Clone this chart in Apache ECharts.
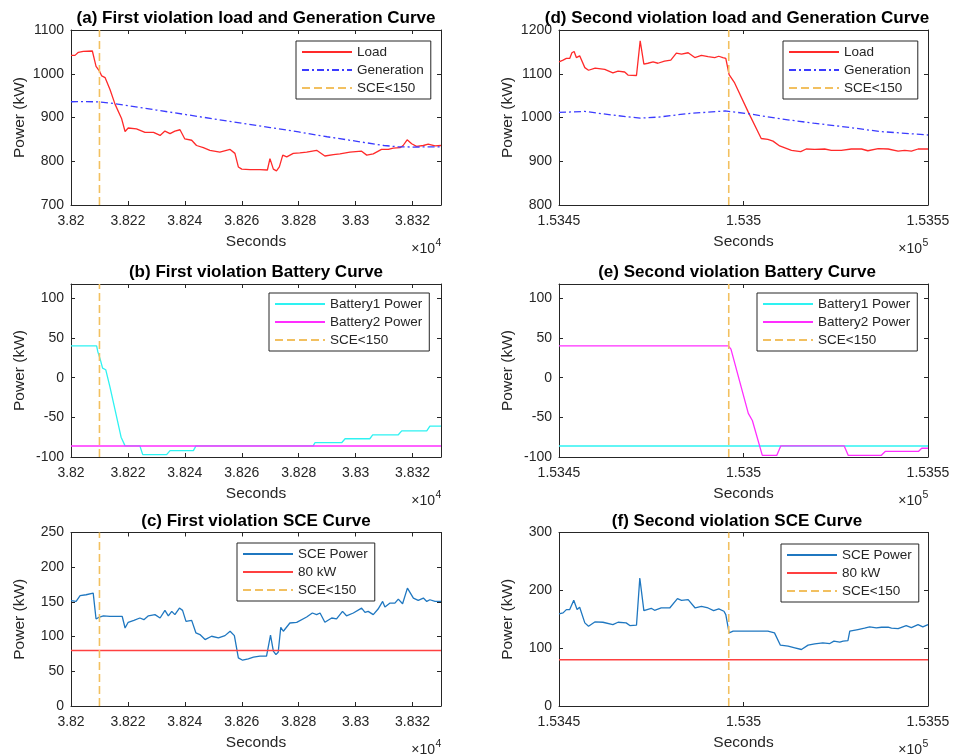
<!DOCTYPE html>
<html>
<head>
<meta charset="utf-8">
<script src="https://cdn.jsdelivr.net/npm/echarts@6/dist/echarts.min.js"></script>
<style>
  html, body { margin: 0; padding: 0; background: #fff; }
  #chart { width: 957px; height: 755px; }
</style>
</head>
<body>
<div id="chart"></div>
<script>
// ---- data: time in seconds, power in kW ----
const titles = [
  '(a) First violation load and Generation Curve',
  '(d) Second violation load and Generation Curve',
  '(b) First violation Battery Curve',
  '(e) Second violation Battery Curve',
  '(c) First violation SCE Curve',
  '(f) Second violation SCE Curve'
];

const firstRange = [38200, 38330];
const secondRange = [153450, 153550];
const firstTrigger = 38210;
const secondTrigger = 153496;

const loadFirst = [
  [38200,1042],[38201.4,1042],[38202.6,1049],[38204.3,1051],[38207.5,1052],[38207.9,1050],
  [38208.8,1017],[38210,1006],[38210.8,995],[38212,991],[38213.7,964],[38215.5,930],
  [38217.8,897],[38219,868],[38220.1,876],[38223,874],[38226,866],[38229,866],
  [38231.3,859],[38233,869],[38234.8,863],[38236.5,869],[38238.3,872],[38240,851],
  [38242.4,848],[38244.1,836],[38246.5,831],[38248.8,825],[38252.3,821],[38255.9,827],
  [38257.6,818],[38258.8,787],[38260,782],[38262.9,781],[38266.4,781],[38269,780],
  [38269.9,806],[38271.1,782],[38272.2,778],[38273.2,787],[38274.4,814],[38275.8,810],
  [38278.1,818],[38280.4,819],[38282.8,821],[38286.3,825],[38289.2,812],[38292.2,815],
  [38294.5,817],[38298,821],[38302.1,823],[38303.9,814],[38306.2,817],[38309.1,827],
  [38311.5,827],[38313.2,830],[38315.6,831],[38316.7,836],[38318.1,849],[38319.7,840],
  [38321.4,834],[38323.8,836],[38325.5,839],[38327.9,835],[38330,836]
];
const genFirst = [
  [38200,936],[38205,936.5],[38210,935.5],[38215,932],[38220,927],[38230,917],
  [38240,907],[38250,897],[38260,887],[38270,877],[38280,867],[38290,856],
  [38300,846],[38310,836],[38315,833],[38320,832.5],[38330,833]
];
const battery1First = [
  [38200,40],[38209,40],[38209.4,33],[38210.2,24],[38211.1,12],[38212.2,10],
  [38213.7,-12],[38215.5,-41],[38217.6,-75],[38219,-86],[38224.2,-86],[38225.2,-97],
  [38233.6,-97],[38234.8,-92],[38243,-92],[38243.9,-86],[38285.1,-86],[38285.7,-82],
  [38295.1,-82],[38296.3,-77],[38305,-77],[38306,-72],[38315,-72],[38316.2,-67],
  [38325,-67],[38326.1,-61],[38330,-61]
];
const battery2First = [[38200,-86],[38330,-86]];
const sceFirst = [
  [38200,151.7],[38201.8,150.7],[38203.2,158.9],[38205.3,160.3],[38207.8,162.7],[38208.8,125.4],
  [38210,128.2],[38211.4,130],[38213.7,129],[38218,129],[38219,112.4],[38220.1,120.6],
  [38222.1,123.4],[38224.2,126.8],[38225.6,124.4],[38227.2,130],[38229.5,131.6],[38231.3,126.8],
  [38233,137.8],[38234.2,130],[38235.4,136.4],[38236.5,131.6],[38238.1,141.1],[38239.2,137.8],
  [38240.4,122],[38242.4,123.4],[38243.9,105.3],[38245.3,102.9],[38247.1,95.7],[38249.4,100.5],
  [38251.8,98.1],[38254.1,101.4],[38255.9,107.7],[38257.4,101.4],[38258.8,69.4],[38260.3,66],
  [38262.3,68],[38264.1,70.3],[38266.4,71.8],[38268.7,71.8],[38269.3,74],[38270.1,102],
  [38271.1,79],[38272,74],[38272.8,77.5],[38273.7,113.4],[38274.6,107.7],[38276.9,119.6],
  [38279.3,120.6],[38282.8,128.2],[38284.8,134],[38286.3,131.6],[38287.5,134],[38289.2,120.6],
  [38291.6,126.8],[38293.3,125.4],[38295.4,136.4],[38296.8,130],[38299.2,134],[38302.1,141.1],
  [38303.3,135],[38304.4,136.4],[38306.2,131.6],[38307.9,139.7],[38309.5,150.7],[38310.3,142.6],
  [38312.1,148.3],[38313.8,148.3],[38315,154],[38316.5,147.4],[38318.2,169.9],[38320.3,155.5],
  [38322,152.2],[38323.8,155.5],[38325,150.7],[38326.1,153.1],[38327.9,150.7],[38330,150.7]
];
const limitFirst = [[38200,80],[38330,80]];

const loadSecond = [
  [153450,1127],[153451.1,1131],[153452,1135],[153452.9,1135],[153453.5,1148],[153454.1,1151],
  [153454.7,1137],[153455.6,1141],[153456.1,1139],[153457,1114],[153458,1108],[153459.8,1113],
  [153462.4,1110],[153464.6,1102],[153466,1106],[153467.8,1104],[153468.7,1097],[153471,1096],
  [153472,1175],[153473,1122],[153474.1,1124],[153475.5,1127],[153476.8,1124],[153478.6,1129],
  [153480.3,1131],[153481.8,1147],[153483.2,1145],[153485,1148],[153486.8,1137],[153488.6,1142],
  [153490.4,1139],[153492.2,1137],[153493.3,1140],[153494.4,1137],[153495.2,1135],[153496.1,1098],
  [153497.6,1079],[153501.2,1014],[153504.8,952],[153506.6,950],[153508,946],[153509.8,935],
  [153513,925],[153515.5,922],[153517,928],[153519.3,927],[153522,928],[153523.8,925],
  [153526.5,925],[153529.2,928],[153532,928],[153533.7,924],[153536.5,929],[153539.2,928],
  [153541.9,923],[153543.7,925],[153545.5,923],[153547.3,928],[153550,928]
];
const genSecond = [
  [153450,1011.5],[153457,1014],[153464,1006],[153472,998.5],[153477,1001],[153485,1009],
  [153495,1015],[153501,1009],[153510,997],[153519,987],[153528,978],[153537,968],[153550,960]
];
const battery1Second = [[153450,-86],[153550,-86]];
const battery2Second = [
  [153450,40],[153495.9,40],[153496.6,36],[153501.3,-45],[153502.4,-54],[153505.1,-98],
  [153509,-98],[153510.1,-86],[153527.3,-86],[153528.4,-98],[153537.3,-98],[153538.4,-93],
  [153547.4,-93],[153548.3,-89],[153550,-89]
];
const sceSecond = [
  [153450,159.2],[153451.1,161],[153452,166.7],[153452.9,166.7],[153454,182.8],[153454.9,166.7],
  [153455.6,170.7],[153456.1,169.5],[153457,143.7],[153458,137.9],[153459.7,145.4],[153461.9,144.8],
  [153464.6,140.8],[153466,144.8],[153468.2,143.7],[153469.2,139.1],[153471,139.7],[153471.9,221.3],
  [153473,164.9],[153475,169],[153475.9,165.5],[153477.7,169.5],[153480,169.5],[153482.1,185.6],
  [153483.2,182.8],[153485,183.9],[153486.9,169.5],[153488.6,172.4],[153490.4,169.5],[153491.9,164.9],
  [153493.3,167.8],[153494.7,163.8],[153495.2,158],[153496.1,126.4],[153497.2,129.3],[153501.2,129.3],
  [153506.6,129.3],[153508.4,126.4],[153510,105.2],[153512.1,103.4],[153513.9,100.6],[153515.7,97.7],
  [153517.5,105.2],[153519.3,107.5],[153521.5,109.2],[153523.4,108],[153524.5,112.1],[153526.1,110.3],
  [153527,112.1],[153528.3,113.2],[153528.8,129.3],[153531,132.2],[153532.8,134.5],[153534.2,136.8],
  [153536,135],[153537.4,136.2],[153539.2,136.2],[153540.1,134.5],[153541.9,133.9],[153544.1,139.1],
  [153545.5,135.6],[153547.3,140.8],[153548.6,136.8],[153550,140.8]
];
const limitSecond = [[153450,80],[153550,80]];

// y ranges per panel: [min, max, step]
const yRanges = [[700,1100,100],[800,1200,100],[-100,118,50],[-100,118,50],[0,250,50],[0,300,100]];
const xSteps = [20, 50];
const xExponents = ['4', '5'];

// ---- layout ----
const colLeft = [71, 559];
const colWidth = [370, 369];
const titleCenter = [256, 737];
const rowTop = [30, 284, 532.5];
const rowHeight = [175, 173, 173.5];

const INK = '#262626';
const FONT = 'Liberation Sans, Arial, sans-serif';
const COLORS = {
  load: '#ff2a2a', gen: '#3b3bff', sce: '#f2c060',
  bat1: '#2ef2f2', bat2: '#ff2eff', scePower: '#1f77c0', limit: '#ff4040'
};

const grids = [], xAxes = [], yAxes = [], series = [], legends = [], graphics = [];

function trimNum(v, scale) {
  return String(parseFloat((v / scale).toFixed(6)));
}

for (let p = 0; p < 6; p++) {
  const col = p % 2, row = Math.floor(p / 2);
  const xr = col === 0 ? firstRange : secondRange;
  const step = xSteps[col];
  const scale = col === 0 ? 1e4 : 1e5;
  const [ymin, ymax, ystep] = yRanges[p];
  grids.push({
    left: colLeft[col], top: rowTop[row], width: colWidth[col], height: rowHeight[row],
    containLabel: false, outerBoundsMode: 'none'
  });
  const lineStyle = { color: INK, width: 1 };
  const baseX = {
    type: 'value', gridIndex: p, min: xr[0], max: xr[1], interval: step,
    axisLine: { show: true, onZero: false, lineStyle },
    axisTick: { show: true, inside: true, length: 4, lineStyle },
    splitLine: { show: false }
  };
  xAxes.push(Object.assign({}, baseX, {
    position: 'bottom',
    axisLabel: {
      color: INK, fontSize: 14, margin: 9, fontFamily: FONT,
      formatter: v => ((v - xr[0]) % step === 0 ? trimNum(v, scale) : '')
    },
    name: 'Seconds', nameLocation: 'middle', nameGap: 29,
    nameTextStyle: { color: INK, fontSize: 15.5, fontFamily: FONT }
  }));
  xAxes.push(Object.assign({}, baseX, { position: 'top', axisLabel: { show: false } }));
  const baseY = {
    type: 'value', gridIndex: p, min: ymin, max: ymax, interval: ystep,
    axisLine: { show: true, onZero: false, lineStyle },
    axisTick: { show: true, inside: true, length: 4, lineStyle },
    splitLine: { show: false }
  };
  yAxes.push(Object.assign({}, baseY, {
    position: 'left',
    axisLabel: {
      color: INK, fontSize: 14, margin: 7, fontFamily: FONT,
      formatter: v => ((v - ymin) % ystep === 0 ? String(v) : '')
    },
    name: 'Power (kW)', nameLocation: 'middle', nameGap: 43,
    nameTextStyle: { color: INK, fontSize: 15.5, fontFamily: FONT }
  }));
  yAxes.push(Object.assign({}, baseY, { position: 'right', axisLabel: { show: false } }));

  // panel title
  graphics.push({
    type: 'text', x: titleCenter[col], y: rowTop[row] - 11.5,
    style: {
      text: titles[p], fill: '#000', textAlign: 'center', textVerticalAlign: 'middle',
      font: 'bold 17px "Liberation Sans", Arial, sans-serif'
    }
  });
  // axis exponent
  const baseY0 = rowTop[row] + rowHeight[row];
  const rightEdge = colLeft[col] + colWidth[col];
  graphics.push({
    type: 'text', x: rightEdge - 6, y: baseY0 + 44.5,
    style: {
      text: '\u00d710', fill: INK, textAlign: 'right', textVerticalAlign: 'middle',
      font: '14px "Liberation Sans", Arial, sans-serif'
    }
  });
  graphics.push({
    type: 'text', x: rightEdge - 5.5, y: baseY0 + 38.5,
    style: {
      text: xExponents[col], fill: INK, textAlign: 'left', textVerticalAlign: 'middle',
      font: '10.5px "Liberation Sans", Arial, sans-serif'
    }
  });
}

function addLine(p, name, data, color, type, width) {
  series.push({
    type: 'line', name, data, xAxisIndex: p * 2, yAxisIndex: p * 2,
    symbol: 'none', animation: false, clip: true,
    lineStyle: { color, width: width || 1.3, type: type || 'solid' },
    itemStyle: { color }
  });
}
const DASH = [8, 4];
const DASHDOT = [7, 3, 2, 3];

function trigger(p, t) {
  const [ymin, ymax] = yRanges[p];
  addLine(p, 'SCE<150', [[t, ymin], [t, ymax]], COLORS.sce, DASH, 1.6);
}

// (a)
addLine(0, 'Load', loadFirst, COLORS.load);
addLine(0, 'Generation', genFirst, COLORS.gen, DASHDOT);
trigger(0, firstTrigger);
// (d)
addLine(1, 'Load', loadSecond, COLORS.load);
addLine(1, 'Generation', genSecond, COLORS.gen, DASHDOT);
trigger(1, secondTrigger);
// (b)
addLine(2, 'Battery1 Power', battery1First, COLORS.bat1);
addLine(2, 'Battery2 Power', battery2First, COLORS.bat2, null, 1.5);
trigger(2, firstTrigger);
// (e)
addLine(3, 'Battery1 Power', battery1Second, COLORS.bat1, null, 1.5);
addLine(3, 'Battery2 Power', battery2Second, COLORS.bat2);
trigger(3, secondTrigger);
// (c)
addLine(4, 'SCE Power', sceFirst, COLORS.scePower);
addLine(4, '80 kW', limitFirst, COLORS.limit, null, 1.5);
trigger(4, firstTrigger);
// (f)
addLine(5, 'SCE Power', sceSecond, COLORS.scePower);
addLine(5, '80 kW', limitSecond, COLORS.limit, null, 1.5);
trigger(5, secondTrigger);

const legendSpecs = [
  { left: 296, top: 41, data: ['Load', 'Generation', 'SCE<150'] },
  { left: 783, top: 41, data: ['Load', 'Generation', 'SCE<150'] },
  { left: 269, top: 293, data: ['Battery1 Power', 'Battery2 Power', 'SCE<150'] },
  { left: 757, top: 293, data: ['Battery1 Power', 'Battery2 Power', 'SCE<150'] },
  { left: 237, top: 543, data: ['SCE Power', '80 kW', 'SCE<150'] },
  { left: 781, top: 544, data: ['SCE Power', '80 kW', 'SCE<150'] }
];
legendSpecs.forEach(l => legends.push({
  left: l.left, top: l.top, orient: 'vertical', data: l.data,
  itemWidth: 50, itemHeight: 14, itemGap: 4, padding: [4, 7, 4, 5],
  borderColor: INK, borderWidth: 1, borderRadius: 0, backgroundColor: '#fff',
  selectedMode: false,
  itemStyle: { opacity: 0 },
  textStyle: { color: INK, fontSize: 13.5, fontFamily: FONT }
}));

const chart = echarts.init(document.getElementById('chart'), null, { renderer: 'canvas' });
chart.setOption({
  animation: false,
  backgroundColor: '#fff',
  grid: grids,
  xAxis: xAxes,
  yAxis: yAxes,
  legend: legends,
  series,
  graphic: graphics
});
</script>
</body>
</html>
